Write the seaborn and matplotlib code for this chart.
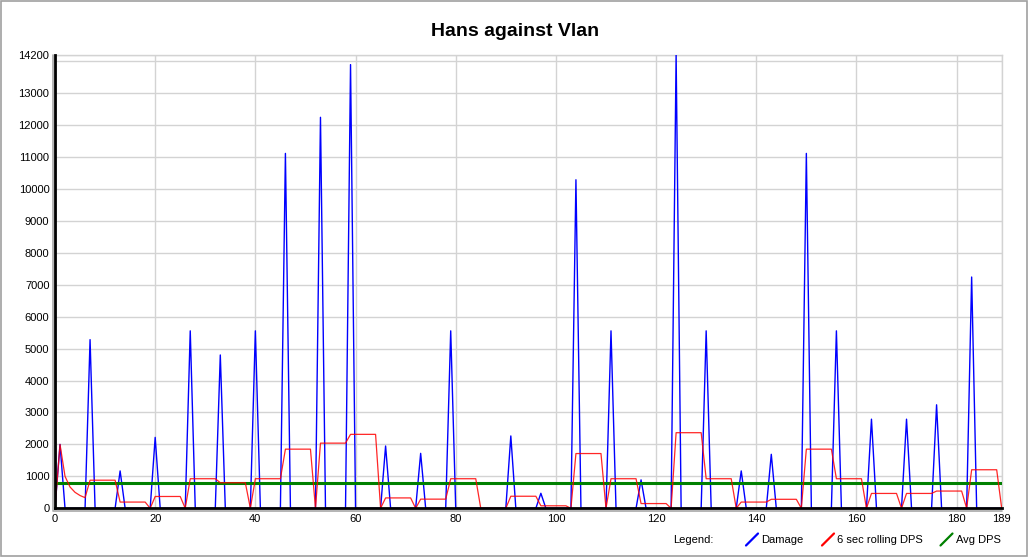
import seaborn as sns
import matplotlib.pyplot as plt
from matplotlib.lines import Line2D
from matplotlib.patches import Rectangle
import pandas as pd
import numpy as np

# data
title = 'Hans against Vlan'
seconds = np.arange(0, 190)
hit_times = [1, 7, 13, 20, 27, 33, 40, 46, 53, 59, 66, 73, 79, 91, 97, 104, 111, 117,
             124, 130, 137, 143, 150, 156, 163, 170, 176, 183]
hit_damage = [2000, 5280, 1170, 2220, 5555, 4800, 5555, 11110, 12240, 13890, 1950, 1720,
              5555, 2265, 470, 10285, 5555, 890, 14200, 5555, 1170, 1690, 11110, 5555,
              2790, 2790, 3240, 7240]
avg_dps = 805
window = 6
xticks = [0, 20, 40, 60, 80, 100, 120, 140, 160, 180, 189]
yticks = list(range(0, 14001, 1000)) + [14200]
legend_names = ['Damage', '6 sec rolling DPS', 'Avg DPS']
legend_colors = ['#0000ff', '#ff0000', '#008000']

# per second table
damage = pd.Series(0.0, index=seconds)
damage[hit_times] = hit_damage
rolling = damage.rolling(window, min_periods=1).sum() / np.clip(seconds, 1, window)
df = pd.DataFrame({'t': seconds, 'Damage': damage.values, 'Rolling': rolling.values,
                   'Avg': avg_dps})

sns.set_style('white')
plt.rcParams['font.family'] = ['Liberation Sans', 'DejaVu Sans']
plt.rcParams['text.color'] = 'black'

W, H = 1030, 558
fig = plt.figure(figsize=(W / 100, H / 100), dpi=100)
ax = fig.add_axes([55 / W, 49.7 / H, (1001.7 - 55) / W, (503.3 - 49.7) / H])

sns.lineplot(data=df, x='t', y='Damage', ax=ax, color=legend_colors[0], lw=1.0, zorder=3)
sns.lineplot(data=df, x='t', y='Avg', ax=ax, color=legend_colors[2], lw=2.2, zorder=4)
sns.lineplot(data=df, x='t', y='Rolling', ax=ax, color=legend_colors[1], lw=0.9,
             alpha=0.85, zorder=5)

ax.set_xlim(0, 189)
ax.set_ylim(0, 14200)
ax.set_xticks(xticks)
ax.set_yticks(yticks)
ax.set_yticklabels(['' if v == 14000 else str(v) for v in yticks])
ax.set_xlabel('')
ax.set_ylabel('')
ax.tick_params(length=0, labelsize=8, colors='black')
ax.tick_params(axis='y', pad=4)
ax.tick_params(axis='x', pad=4)
ax.grid(True, color='#d3d3d3', lw=1)
ax.set_axisbelow(True)

for side in ['top', 'right']:
    ax.spines[side].set_color('#d3d3d3')
    ax.spines[side].set_linewidth(1)
for side in ['left', 'bottom']:
    ax.spines[side].set_color('black')
    ax.spines[side].set_linewidth(2)
    ax.spines[side].set_zorder(6)

# grey shadow next to the axes lines
fig.add_artist(Line2D([52.5 / W, 52.5 / W], [49.7 / H - 2 / H, 503.3 / H],
                      color='#a8a8a8', lw=1.2))
fig.add_artist(Line2D([52.5 / W, 1001.7 / W], [47.3 / H, 47.3 / H],
                      color='#a8a8a8', lw=1.2))

# outer frame
fig.add_artist(Rectangle((1 / W, 2 / H), 1026 / W, 555 / H, transform=fig.transFigure,
                         fill=False, edgecolor='#a0a0a0', lw=1.2))

fig.text(515 / W, 1 - 32 / H, title, ha='center', va='center', fontsize=14,
         fontweight='bold', color='black')

# legend row
ly = 1 - 540 / H
fig.text(673 / W, ly, 'Legend:', ha='left', va='center', fontsize=8, color='black')
icon_x = [746, 822, 940.5]
for name, col, x0 in zip(legend_names, legend_colors, icon_x):
    fig.add_artist(Line2D([x0 / W, (x0 + 12) / W], [1 - 545.5 / H, 1 - 533.5 / H],
                          color=col, lw=1.6))
    fig.text((x0 + 15) / W, ly, name, ha='left', va='center', fontsize=8, color='black')

fig.savefig('out.png', dpi=100)
